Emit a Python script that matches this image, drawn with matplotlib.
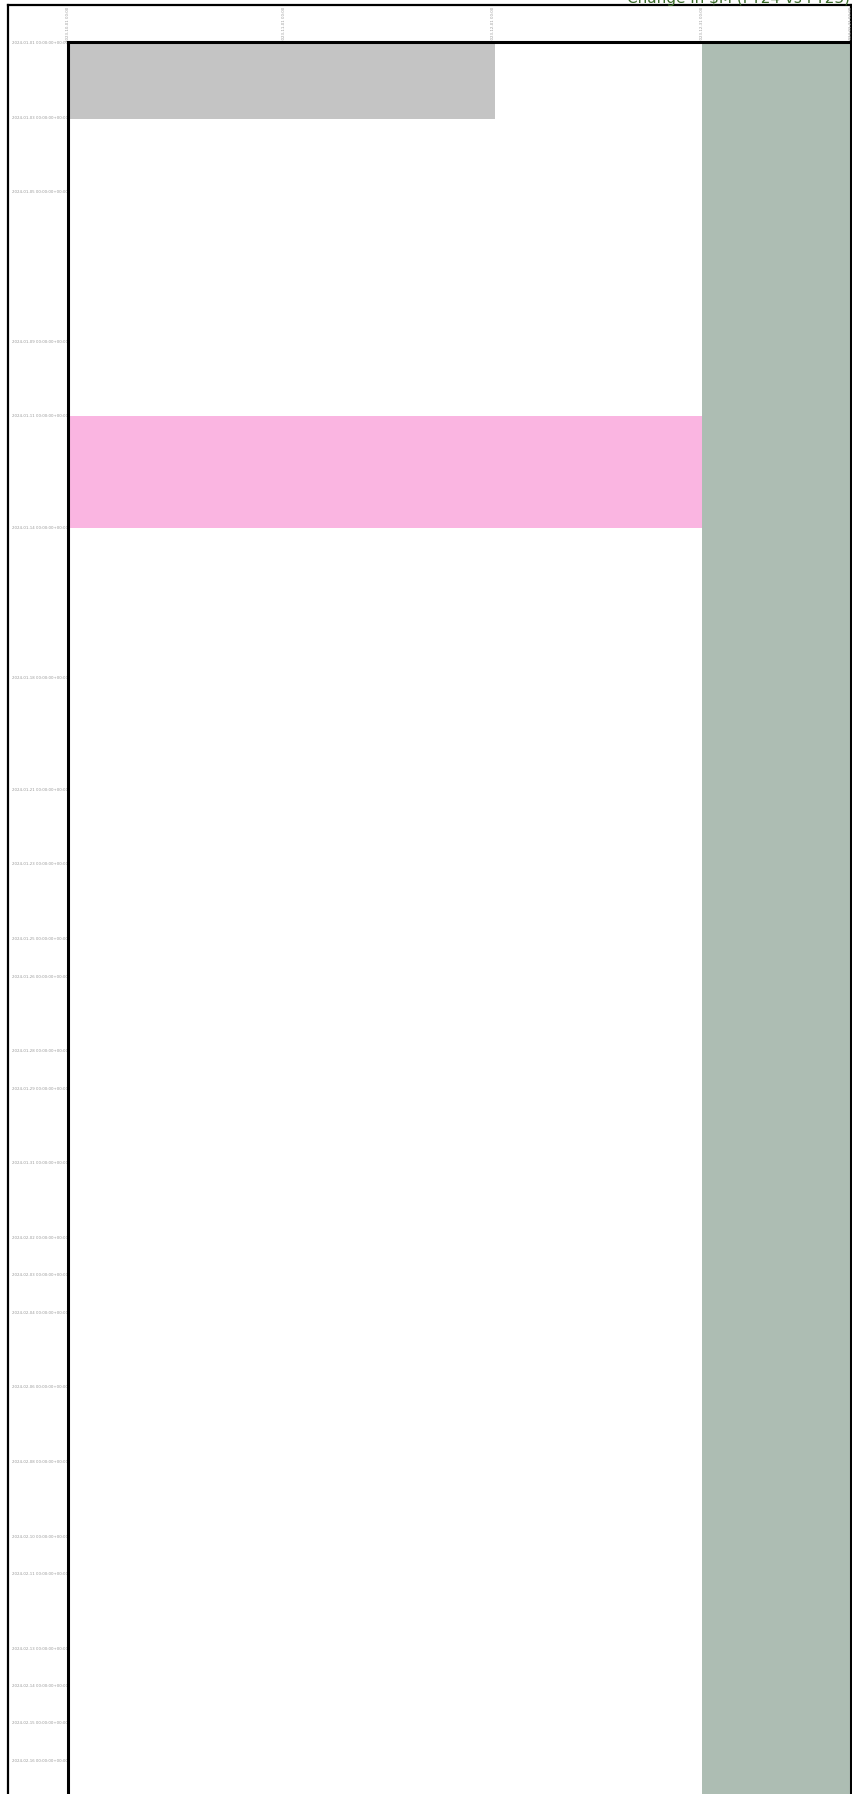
import matplotlib
matplotlib.use("Agg")
import matplotlib.pyplot as plt

# Bars (rows on the y axis, days on the x axis)
bar_names = ["Baseline", "Revised", "Forecast"]
bar_row_start = [0, 10, 0]
bar_row_span = [2.05, 3, 48]
bar_day_start = [0, 0, 91]
bar_day_end = [61.3, 91, 130]
bar_colors = ["#c4c4c4", "#fab5e1", "#adbdb3"]

# Tick positions and labels
y_ticks = [0, 2, 4, 8, 10, 13, 17, 20, 22, 24, 25, 27, 28, 30, 32, 33, 34,
           36, 38, 40, 41, 43, 44, 45, 46]
y_labels = ["2024-01-01 00:00:00+00:00", "2024-01-03 00:00:00+00:00",
            "2024-01-05 00:00:00+00:00", "2024-01-09 00:00:00+00:00",
            "2024-01-11 00:00:00+00:00", "2024-01-14 00:00:00+00:00",
            "2024-01-18 00:00:00+00:00", "2024-01-21 00:00:00+00:00",
            "2024-01-23 00:00:00+00:00", "2024-01-25 00:00:00+00:00",
            "2024-01-26 00:00:00+00:00", "2024-01-28 00:00:00+00:00",
            "2024-01-29 00:00:00+00:00", "2024-01-31 00:00:00+00:00",
            "2024-02-02 00:00:00+00:00", "2024-02-03 00:00:00+00:00",
            "2024-02-04 00:00:00+00:00", "2024-02-06 00:00:00+00:00",
            "2024-02-08 00:00:00+00:00", "2024-02-10 00:00:00+00:00",
            "2024-02-11 00:00:00+00:00", "2024-02-13 00:00:00+00:00",
            "2024-02-14 00:00:00+00:00", "2024-02-15 00:00:00+00:00",
            "2024-02-16 00:00:00+00:00"]
x_ticks = [0, 31, 61, 91, 112.4]
x_labels = ["2023-10-01 00:00", "2023-11-01 00:00", "2023-12-01 00:00",
            "2023-12-31 00:00", "2024-01-21 00:00"]

title = "Change in \\$M (FY24 vs FY23)"

W, H = 853, 1794
fig = plt.figure(figsize=(W / 100, H / 100), dpi=100)

# outer frame
outer = fig.add_axes([8 / W, -0.02, (851.5 - 8) / W, (H - 5.5) / H + 0.02])
outer.set_xticks([])
outer.set_yticks([])
for s in outer.spines.values():
    s.set_linewidth(1.6)
    s.set_color("black")

# main axes
ax = fig.add_axes([68 / W, -0.02, (851.5 - 68) / W, (H - 42.5) / H + 0.02])
for i in range(len(bar_names)):
    ax.barh(bar_row_start[i], bar_day_end[i] - bar_day_start[i],
            left=bar_day_start[i], height=bar_row_span[i], align="edge",
            color=bar_colors[i], linewidth=0, label=bar_names[i])

ax.set_xlim(0, 112.4)
ax.set_ylim((H * 1.02 - 42.5) / 37.34, 0)
for s in ax.spines.values():
    s.set_linewidth(2.2)
    s.set_color("black")

ax.set_yticks(y_ticks)
ax.set_yticklabels(y_labels, fontsize=2.8, color="#999999")
ax.xaxis.tick_top()
ax.set_xticks(x_ticks)
ax.set_xticklabels(x_labels, fontsize=2.8, color="#999999", rotation=90)
ax.tick_params(axis="both", length=0, pad=0.3)

fig.text(0.997, 1 - 2.5 / H, title, ha="right", va="baseline",
         color="#3b6b2a", fontsize=11)

fig.savefig("out.png", dpi=100)
plt.close(fig)
